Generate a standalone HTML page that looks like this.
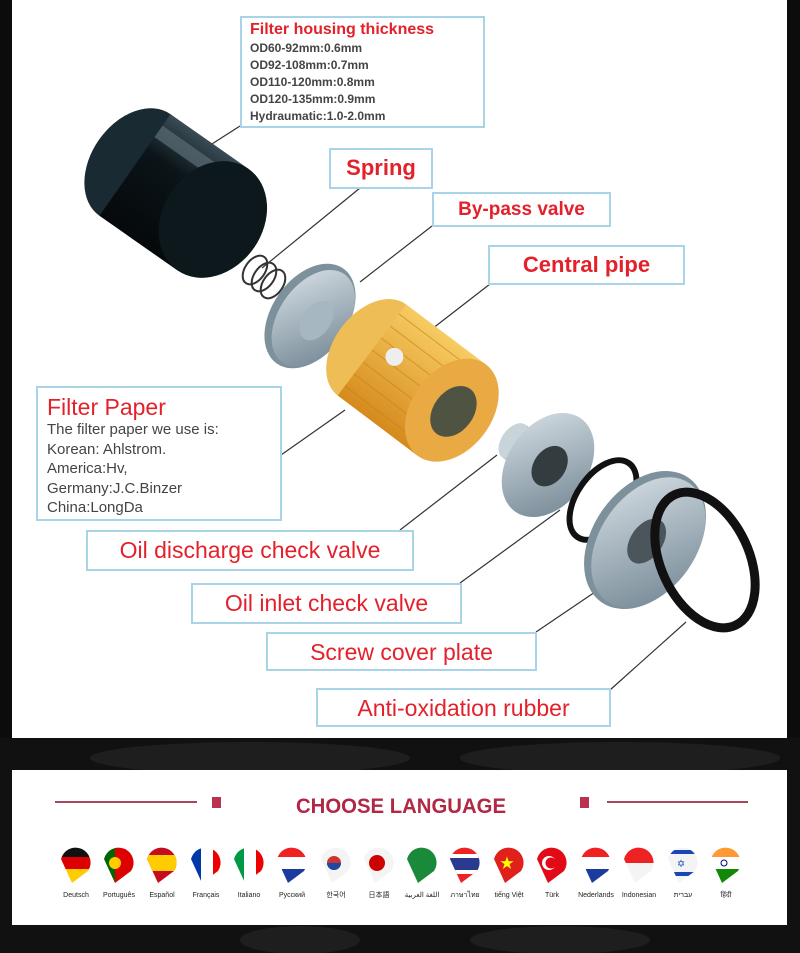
<!DOCTYPE html>
<html><head><meta charset="utf-8"><style>
body{margin:0;width:800px;height:953px;background:#0c0c0c;overflow:hidden;font-family:"Liberation Sans",sans-serif}
.box{position:absolute;border:2px solid #a9d3e6;background:#fff;box-sizing:border-box}
.r{color:#e3212b;font-weight:bold}
.lab{position:absolute;font-weight:bold;color:#e3212b;font-size:22px;white-space:nowrap;text-align:center;line-height:36px}
.g{color:#444;font-weight:bold}
</style></head><body>
<div style="position:absolute;left:12px;top:0;width:775px;height:738px;background:#fff"></div>
<svg style="position:absolute;left:0;top:0" width="800" height="953">
<defs>
<linearGradient id="bk" x1="0" y1="0" x2="0" y2="1"><stop offset="0" stop-color="#3a4c56"/><stop offset=".35" stop-color="#0b1418"/><stop offset="1" stop-color="#05090b"/></linearGradient>
<linearGradient id="yl" x1="0" y1="0" x2="0" y2="1"><stop offset="0" stop-color="#f7cc63"/><stop offset="1" stop-color="#d58a1c"/></linearGradient>
<linearGradient id="mt" x1="0" y1="0" x2="1" y2="1"><stop offset="0" stop-color="#d8e1e7"/><stop offset="1" stop-color="#6f8390"/></linearGradient>
</defs>
<rect x="0" y="738" width="800" height="215" fill="#111"/>
<ellipse cx="250" cy="758" rx="160" ry="16" fill="#1e1e1e"/><ellipse cx="620" cy="758" rx="160" ry="16" fill="#1e1e1e"/>
<ellipse cx="300" cy="940" rx="60" ry="14" fill="#1e1e1e"/><ellipse cx="560" cy="940" rx="90" ry="14" fill="#1e1e1e"/>
<g stroke="#333" stroke-width="1.2">
<line x1="240" y1="126" x2="190" y2="158"/>
<line x1="360" y1="188" x2="262" y2="268"/>
<line x1="432" y1="226" x2="360" y2="282"/>
<line x1="490" y1="284" x2="410" y2="346"/>
<line x1="281" y1="455" x2="345" y2="410"/>
<line x1="400" y1="530" x2="497" y2="455"/>
<line x1="460" y1="583" x2="560" y2="510"/>
<line x1="536" y1="632" x2="598" y2="590"/>
<line x1="610" y1="690" x2="686" y2="622"/>
</g>
<!-- black canister -->
<g transform="translate(135,165) rotate(35)">
<ellipse cx="0" cy="0" rx="44" ry="62" fill="#1a2a32"/>
<rect x="0" y="-62" width="95" height="124" fill="url(#bk)"/>
<rect x="0" y="-48" width="70" height="14" fill="#55666f" opacity=".8"/>
<ellipse cx="95" cy="0" rx="50" ry="62" fill="#0c181c"/>
</g>
<g stroke="#333" stroke-width="2" fill="none">
<ellipse cx="255" cy="270" rx="10" ry="16" transform="rotate(35 255 270)"/>
<ellipse cx="264" cy="277" rx="10" ry="16" transform="rotate(35 264 277)"/>
<ellipse cx="273" cy="284" rx="10" ry="16" transform="rotate(35 273 284)"/>
</g>
<!-- bypass disc -->
<g transform="translate(310,316) rotate(35)">
<ellipse cx="0" cy="0" rx="38" ry="58" fill="#7d919c"/>
<ellipse cx="4" cy="0" rx="34" ry="54" fill="url(#mt)"/>
<ellipse cx="8" cy="0" rx="14" ry="22" fill="#a6b7c2"/>
</g>
<!-- yellow filter -->
<g transform="translate(372,350) rotate(37)">
<ellipse cx="0" cy="0" rx="38" ry="57" fill="#eebd55"/>
<rect x="0" y="-57" width="100" height="114" fill="url(#yl)"/>
<g stroke="#c47f18" stroke-width="1" opacity=".6">
<line x1="0" y1="-45" x2="100" y2="-45"/><line x1="0" y1="-30" x2="100" y2="-30"/><line x1="0" y1="-15" x2="100" y2="-15"/><line x1="0" y1="0" x2="100" y2="0"/><line x1="0" y1="15" x2="100" y2="15"/><line x1="0" y1="30" x2="100" y2="30"/><line x1="0" y1="45" x2="100" y2="45"/></g>
<ellipse cx="100" cy="0" rx="40" ry="57" fill="#e9a943"/>
<ellipse cx="102" cy="0" rx="20" ry="28" fill="#4f5342"/>
<circle cx="22" cy="-8" r="9" fill="#eee"/>
</g>
<!-- discharge valve -->
<g transform="translate(548,465) rotate(35)">
<rect x="-42" y="-20" width="40" height="40" fill="#a8b8c2"/>
<ellipse cx="-42" cy="0" rx="12" ry="20" fill="#c8d3da"/>
<ellipse cx="0" cy="0" rx="40" ry="57" fill="url(#mt)"/>
<ellipse cx="2" cy="0" rx="16" ry="22" fill="#333d40"/>
</g>
<ellipse cx="603" cy="500" rx="26" ry="45" transform="rotate(35 603 500)" fill="none" stroke="#111" stroke-width="6"/>
<!-- screw plate -->
<g transform="translate(645,540) rotate(35)">
<ellipse cx="0" cy="0" rx="52" ry="76" fill="#7d919c"/>
<ellipse cx="4" cy="0" rx="48" ry="72" fill="url(#mt)"/>
<ellipse cx="2" cy="0" rx="16" ry="25" fill="#4a555c"/>
</g>
<ellipse cx="705" cy="560" rx="44" ry="72" transform="rotate(-25 705 560)" fill="none" stroke="#111" stroke-width="9"/>
<rect x="12" y="770" width="775" height="155" fill="#fff"/>
<line x1="55" y1="802" x2="197" y2="802" stroke="#a9485c" stroke-width="2"/>
<line x1="607" y1="802" x2="748" y2="802" stroke="#a9485c" stroke-width="2"/>
<rect x="212" y="797" width="9" height="11" fill="#b8334f"/><rect x="580" y="797" width="9" height="11" fill="#b8334f"/>
<text x="401" y="813" text-anchor="middle" font-family="Liberation Sans" font-weight="bold" font-size="21" fill="#b02844" textLength="210" lengthAdjust="spacingAndGlyphs">CHOOSE LANGUAGE</text>
</svg>
<svg style="position:absolute;left:0;top:840" width="800" height="70">
<defs><clipPath id="p"><path d="M-15,-4 A15,15 0 1 1 12,8 L-4,20 Z"/></clipPath></defs>
<g font-family="Liberation Sans,Noto Sans CJK SC,sans-serif" font-size="7" fill="#222" text-anchor="middle">
<g transform="translate(76,23)"><g clip-path="url(#p)"><rect x="-18" y="-20" width="36" height="14" fill="#111"/><rect x="-18" y="-6" width="36" height="12" fill="#d00"/><rect x="-18" y="6" width="36" height="16" fill="#fc0"/></g></g>
<g transform="translate(119,23)"><g clip-path="url(#p)"><rect x="-18" y="-20" width="14" height="42" fill="#060"/><rect x="-4" y="-20" width="24" height="42" fill="#d00"/><circle cx="-4" cy="0" r="6" fill="#fc0"/></g></g>
<g transform="translate(162,23)"><g clip-path="url(#p)"><rect x="-18" y="-20" width="36" height="42" fill="#c60b1e"/><rect x="-18" y="-8" width="36" height="16" fill="#fc0"/></g></g>
<g transform="translate(206,23)"><g clip-path="url(#p)"><rect x="-18" y="-20" width="13" height="42" fill="#0038a8"/><rect x="-5" y="-20" width="12" height="42" fill="#fff"/><rect x="7" y="-20" width="12" height="42" fill="#e00"/></g></g>
<g transform="translate(249,23)"><g clip-path="url(#p)"><rect x="-18" y="-20" width="13" height="42" fill="#094"/><rect x="-5" y="-20" width="12" height="42" fill="#fff"/><rect x="7" y="-20" width="12" height="42" fill="#e00"/></g></g>
<g transform="translate(292,23)"><g clip-path="url(#p)"><rect x="-18" y="-20" width="36" height="14" fill="#e22"/><rect x="-18" y="-6" width="36" height="12" fill="#fff"/><rect x="-18" y="6" width="36" height="16" fill="#1b3c9c"/></g></g>
<g transform="translate(336,23)"><g clip-path="url(#p)"><rect x="-18" y="-20" width="36" height="42" fill="#f4f4f4"/><circle cx="-2" cy="0" r="7" fill="#c33"/><path d="M-9,0 A7,7 0 0 0 5,0Z" fill="#1d4aa0"/></g></g>
<g transform="translate(379,23)"><g clip-path="url(#p)"><rect x="-18" y="-20" width="36" height="42" fill="#f4f4f4"/><circle cx="-2" cy="0" r="8" fill="#c00"/></g></g>
<g transform="translate(422,23)"><g clip-path="url(#p)"><rect x="-18" y="-20" width="36" height="42" fill="#1a8a3a"/></g></g>
<g transform="translate(465,23)"><g clip-path="url(#p)"><rect x="-18" y="-20" width="36" height="42" fill="#e22"/><rect x="-18" y="-9" width="36" height="20" fill="#fff"/><rect x="-18" y="-5" width="36" height="12" fill="#2a3b8f"/></g></g>
<g transform="translate(509,23)"><g clip-path="url(#p)"><rect x="-18" y="-20" width="36" height="42" fill="#e0201b"/><text x="-2" y="5" font-size="14" fill="#ff0">★</text></g></g>
<g transform="translate(552,23)"><g clip-path="url(#p)"><rect x="-18" y="-20" width="36" height="42" fill="#e30a17"/><circle cx="-3" cy="0" r="7" fill="#fff"/><circle cx="-1" cy="0" r="5.5" fill="#e30a17"/></g></g>
<g transform="translate(596,23)"><g clip-path="url(#p)"><rect x="-18" y="-20" width="36" height="14" fill="#e22"/><rect x="-18" y="-6" width="36" height="12" fill="#fff"/><rect x="-18" y="6" width="36" height="16" fill="#1b3c9c"/></g></g>
<g transform="translate(639,23)"><g clip-path="url(#p)"><rect x="-18" y="-20" width="36" height="20" fill="#e22"/><rect x="-18" y="0" width="36" height="22" fill="#f4f4f4"/></g></g>
<g transform="translate(683,23)"><g clip-path="url(#p)"><rect x="-18" y="-20" width="36" height="42" fill="#f4f4f4"/><rect x="-18" y="-13" width="36" height="4" fill="#1a47b8"/><rect x="-18" y="9" width="36" height="4" fill="#1a47b8"/><text x="-2" y="4" font-size="10" fill="#1a47b8">✡</text></g></g>
<g transform="translate(726,23)"><g clip-path="url(#p)"><rect x="-18" y="-20" width="36" height="14" fill="#f93"/><rect x="-18" y="-6" width="36" height="12" fill="#fff"/><rect x="-18" y="6" width="36" height="16" fill="#128807"/><circle cx="-2" cy="0" r="3" fill="none" stroke="#008" stroke-width="1"/></g></g>
<text x="76" y="57">Deutsch</text><text x="119" y="57">Português</text><text x="162" y="57">Español</text><text x="206" y="57">Français</text><text x="249" y="57">Italiano</text><text x="292" y="57">Русский</text><text x="336" y="57">한국어</text><text x="379" y="57">日本語</text><text x="422" y="57">اللغة العربية</text><text x="465" y="57">ภาษาไทย</text><text x="509" y="57">tiếng Việt</text><text x="552" y="57">Türk</text><text x="596" y="57">Nederlands</text><text x="639" y="57">Indonesian</text><text x="683" y="57">עברית</text><text x="726" y="57">हिंदी</text>
</g></svg>

<div class="box" style="left:240px;top:16px;width:245px;height:112px;padding:2px 0 0 8px">
<div class="r" style="font-size:16px;line-height:20px">Filter housing thickness</div>
<div class="g" style="font-size:12px;line-height:17px">OD60-92mm:0.6mm<br>OD92-108mm:0.7mm<br>OD110-120mm:0.8mm<br>OD120-135mm:0.9mm<br>Hydraumatic:1.0-2.0mm</div></div>
<div class="box lab" style="left:329px;top:148px;width:104px;height:41px">Spring</div>
<div class="box lab" style="left:432px;top:192px;width:179px;height:35px;font-size:19px;line-height:31px">By-pass valve</div>
<div class="box lab" style="left:488px;top:245px;width:197px;height:40px">Central pipe</div>
<div class="box" style="left:36px;top:386px;width:246px;height:135px;padding:6px 0 0 9px">
<div style="color:#e3212b;font-size:23px;line-height:26px">Filter Paper</div>
<div style="color:#444;font-size:15px;line-height:19.5px">The filter paper we use is:<br>Korean: Ahlstrom.<br>America:Hv,<br>Germany:J.C.Binzer<br>China:LongDa</div></div>
<div class="box lab" style="left:86px;top:530px;width:328px;height:41px;font-weight:normal;font-size:23px">Oil discharge check valve</div>
<div class="box lab" style="left:191px;top:583px;width:271px;height:41px;font-weight:normal;font-size:23px">Oil inlet check valve</div>
<div class="box lab" style="left:266px;top:632px;width:271px;height:39px;font-weight:normal;font-size:23px">Screw cover plate</div>
<div class="box lab" style="left:316px;top:688px;width:295px;height:39px;font-weight:normal;font-size:23px">Anti-oxidation rubber</div>
</body></html>
